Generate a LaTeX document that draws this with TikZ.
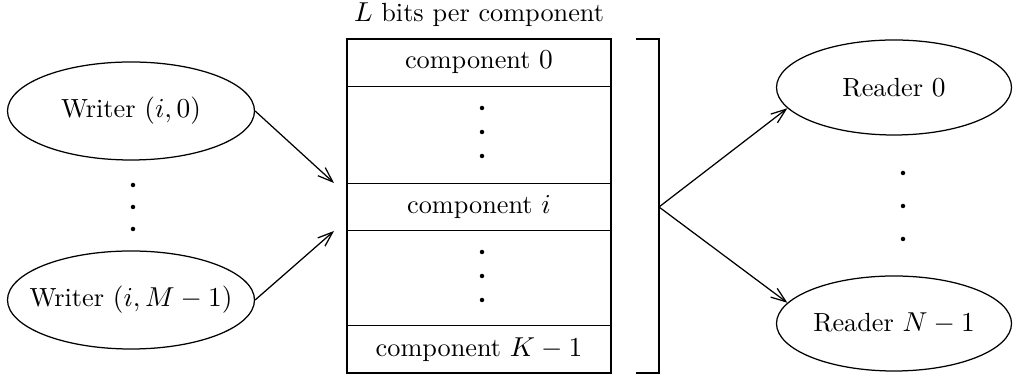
\documentclass[tikz,border=0pt]{standalone}
\usetikzlibrary{shapes.geometric,arrows.meta}
\begin{document}
\begin{tikzpicture}[x=0.4pt,y=-0.4pt,line width=0.5pt,
  every node/.style={font=\fontsize{10.5}{12}\selectfont},
  proc/.style={draw,ellipse,inner sep=0pt},
  writer/.style={proc,minimum width=98.8pt,minimum height=39.2pt},
  reader/.style={proc,minimum width=94pt,minimum height=38pt},
  row/.style={draw,rectangle,minimum width=105.6pt,minimum height=19pt,inner sep=0pt},
  dot/.style={circle,fill,inner sep=0pt,minimum size=1.8pt},
  arr/.style={-{Straight Barb[length=6pt,width=4.4pt]}}]
\useasboundingbox (0,0) rectangle (1013,377);
% writers
\node[writer] (w0) at (131,111) {\makebox[0pt]{Writer $(i,0)$}};
\node[writer] (wM) at (131,300) {\makebox[0pt]{Writer $(i,M-1)$}};
\node[dot] (wd1) at (133,185) {};
\node[dot] (wd2) at (133,207) {};
\node[dot] (wd3) at (133,229) {};
% memory box
\node (lab) at (479,15) {$L$ bits per component};
\draw (347,39) rectangle (611,373);
\node[row] (c0) at (479,62.5) {component $0$};
\node[row] (ci) at (479,207) {component $i$};
\node[row] (cK) at (479,349.5) {component $K-1$};
\node[dot] (bd1) at (482,108) {};
\node[dot] (bd2) at (482,132) {};
\node[dot] (bd3) at (482,156) {};
\node[dot] (bd4) at (482,252) {};
\node[dot] (bd5) at (482,276) {};
\node[dot] (bd6) at (482,300) {};
% bracket
\coordinate (bt) at (636,39);
\coordinate (bb) at (636,373);
\coordinate (br) at (659,207);
\draw (bt) -- (659,39) -- (659,373) -- (bb);
% readers
\node[reader] (r0) at (894,87.5) {\makebox[0pt]{Reader $0$}};
\node[reader] (rN) at (894,323.5) {\makebox[0pt]{Reader $N-1$}};
\node[dot] (rd1) at (903,173) {};
\node[dot] (rd2) at (903,206) {};
\node[dot] (rd3) at (903,239) {};
% arrows
\coordinate (t0) at (334,183);
\coordinate (tM) at (334,231);
\draw[arr] (w0.east) -- (t0);
\draw[arr] (wM.east) -- (tM);
\draw[arr] (br) -- (r0.191);
\draw[arr] (br) -- (rN.169);
\end{tikzpicture}
\end{document}
